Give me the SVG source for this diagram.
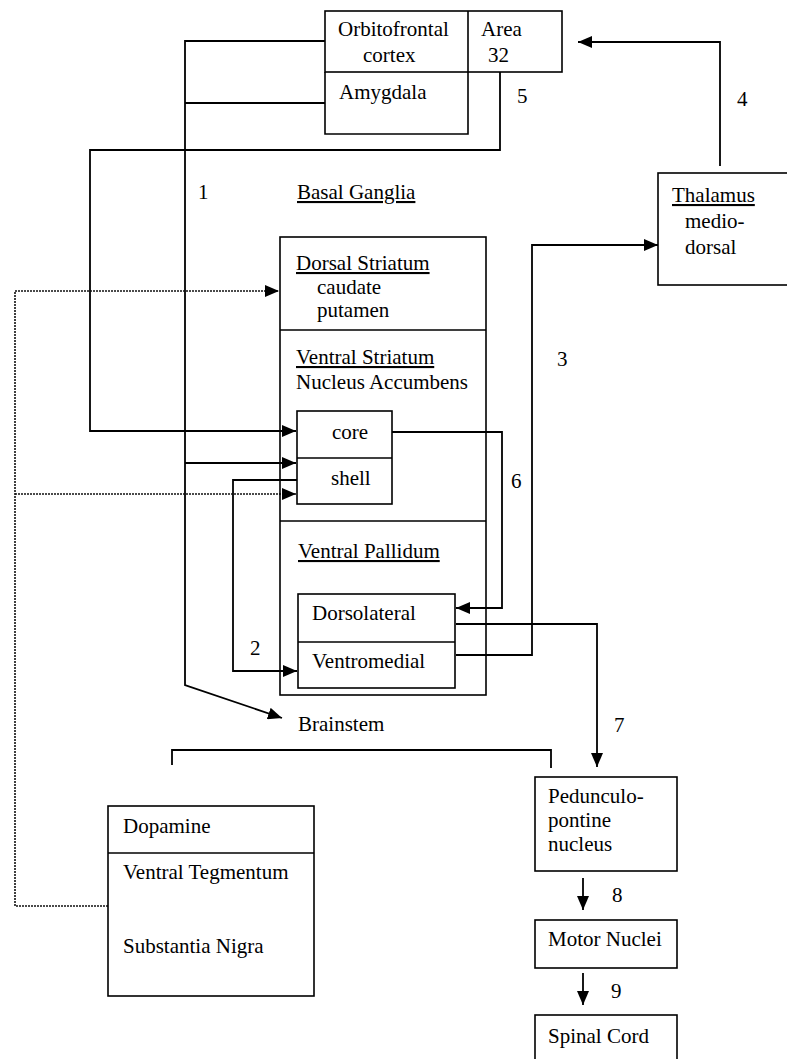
<svg xmlns="http://www.w3.org/2000/svg" width="787" height="1059" viewBox="0 0 787 1059">
<style>
text{font-family:"Liberation Serif","Times New Roman",serif;font-size:21px;fill:#000}
.u{text-decoration:underline}
.box{fill:none;stroke:#000;stroke-width:1.6}
.ln{fill:none;stroke:#000;stroke-width:1.8}
.dot{fill:none;stroke:#111;stroke-width:1.6;stroke-dasharray:2,1}
</style>
<defs>
<marker id="ah" viewBox="0 0 14 12" refX="14" refY="6" markerWidth="14" markerHeight="12" markerUnits="userSpaceOnUse" orient="auto">
<path d="M0,0 L14,6 L0,12 z" fill="#000"/>
</marker>
</defs>
<rect width="787" height="1059" fill="#fff"/>

<g id="connectors">
<path class="ln" d="M325,41 H185 V685 L282,718" marker-end="url(#ah)"/>
<path class="ln" d="M325,103 H185"/>
<path class="ln" d="M185,463 H296" marker-end="url(#ah)"/>
<path class="ln" d="M500,72 V150 H90 V431 H296" marker-end="url(#ah)"/>
<path class="ln" d="M720,166 V42 H578" marker-end="url(#ah)"/>
<path class="ln" d="M456,655 H532 V245 H658" marker-end="url(#ah)"/>
<path class="ln" d="M392,432 H502 V608 H456" marker-end="url(#ah)"/>
<path class="ln" d="M297,480 H233 V671 H297" marker-end="url(#ah)"/>
<path class="ln" d="M456,624 H597 V767" marker-end="url(#ah)"/>
<path class="ln" d="M583,878 V910" marker-end="url(#ah)"/>
<path class="ln" d="M583,973 V1005" marker-end="url(#ah)"/>
<path class="dot" d="M108,906 H15 V291 H279" marker-end="url(#ah)"/>
<path class="dot" d="M15,494 H296" marker-end="url(#ah)"/>
<path class="ln" d="M172,765 V750 H551 V768"/>
<text x="198" y="199">1</text>
<text x="250" y="655">2</text>
<text x="557" y="366">3</text>
<text x="737" y="106">4</text>
<text x="517" y="103">5</text>
<text x="511" y="488">6</text>
<text x="614" y="732">7</text>
<text x="612" y="902">8</text>
<text x="611" y="998">9</text>
</g>

<g id="cortex">
<rect class="box" x="325" y="11" width="237" height="61"/>
<path class="box" d="M468,11 V72 M325,72 V134 H468 V72"/>
<text x="338" y="36">Orbitofrontal</text>
<text x="363" y="62">cortex</text>
<text x="481" y="36">Area</text>
<text x="488" y="62">32</text>
<text x="339" y="99">Amygdala</text>
</g>

<g id="thalamus">
<rect class="box" x="658" y="173" width="140" height="112"/>
<text x="672" y="202" class="u">Thalamus</text>
<text x="685" y="228">medio-</text>
<text x="685" y="254">dorsal</text>
</g>

<g id="basal-ganglia">
<text x="297" y="199" class="u">Basal Ganglia</text>
<rect class="box" x="280" y="237" width="206" height="458"/>
<path class="box" d="M280,330 H486 M280,521 H486"/>
<text x="296" y="270" class="u">Dorsal Striatum</text>
<text x="317" y="294">caudate</text>
<text x="317" y="317">putamen</text>
<text x="296" y="364" class="u">Ventral Striatum</text>
<text x="296" y="389">Nucleus Accumbens</text>
<text x="298" y="558" class="u">Ventral Pallidum</text>
</g>

<g id="accumbens">
<rect class="box" x="297" y="411" width="95" height="93"/>
<path class="box" d="M297,458 H392"/>
<text x="332" y="439">core</text>
<text x="331" y="485">shell</text>
</g>

<g id="pallidum">
<rect class="box" x="298" y="594" width="157" height="94"/>
<path class="box" d="M298,642 H455"/>
<text x="312" y="620">Dorsolateral</text>
<text x="312" y="668">Ventromedial</text>
</g>

<g id="brainstem">
<text x="298" y="731">Brainstem</text>
</g>

<g id="dopamine">
<rect class="box" x="108" y="806" width="206" height="190"/>
<path class="box" d="M108,853 H314"/>
<text x="123" y="833">Dopamine</text>
<text x="123" y="879">Ventral Tegmentum</text>
<text x="123" y="953">Substantia Nigra</text>
</g>

<g id="ppn">
<rect class="box" x="535" y="777" width="142" height="94"/>
<text x="548" y="803">Pedunculo-</text>
<text x="548" y="827">pontine</text>
<text x="548" y="851">nucleus</text>
</g>

<g id="motor">
<rect class="box" x="535" y="920" width="142" height="48"/>
<text x="548" y="946">Motor Nuclei</text>
</g>

<g id="spinal">
<rect class="box" x="535" y="1015" width="142" height="60"/>
<text x="548" y="1043">Spinal Cord</text>
</g>
</svg>
